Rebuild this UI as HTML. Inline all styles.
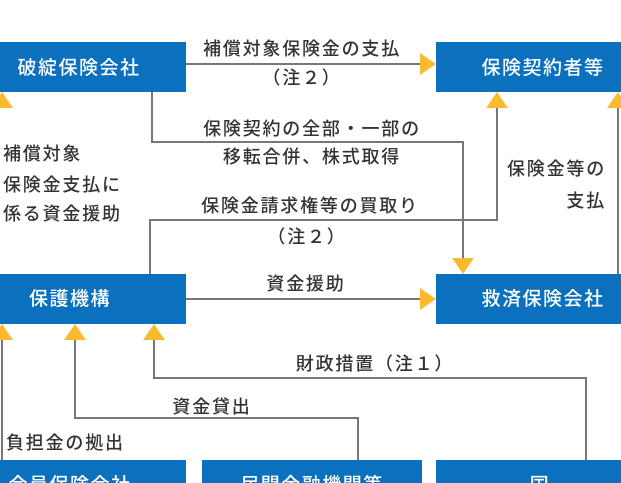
<!DOCTYPE html>
<html><head><meta charset="utf-8"><style>
html,body{margin:0;padding:0;background:#fff;width:621px;height:483px;overflow:hidden}
svg{display:block}
text{font-family:"Liberation Sans","Noto Sans CJK JP",sans-serif;font-size:18px;letter-spacing:1.8px;fill:#333;font-weight:500}
.w{fill:#fff;font-size:19px;letter-spacing:1.5px}
</style></head><body>
<svg width="621" height="483" viewBox="0 0 621 483" xmlns="http://www.w3.org/2000/svg">
<g fill="#0b70bd">
<rect x="0" y="42" width="186" height="50"/>
<rect x="436" y="42" width="185" height="50"/>
<rect x="0" y="274" width="186" height="50"/>
<rect x="436" y="274" width="185" height="50"/>
<rect x="0" y="460" width="186" height="30"/>
<rect x="202" y="460" width="220" height="30"/>
<rect x="436" y="460" width="185" height="30"/>
</g>
<text class="w" x="79" y="74" text-anchor="middle">破綻保険会社</text>
<text class="w" x="543" y="74" text-anchor="middle">保険契約者等</text>
<text class="w" x="70" y="305" text-anchor="middle">保護機構</text>
<text class="w" x="543" y="305" text-anchor="middle">救済保険会社</text>
<text class="w" x="70" y="491" text-anchor="middle">会員保険会社</text>
<text class="w" x="312" y="491" text-anchor="middle">民間金融機関等</text>
<text class="w" x="540" y="491" text-anchor="middle">国</text>
<g fill="none" stroke="#777" stroke-width="2">
<path d="M186 64H422"/>
<path d="M152 92V142H463V260"/>
<path d="M150 274V220H497V106"/>
<path d="M618 274V106"/>
<path d="M186 299H422"/>
<path d="M154 338V378H586V460"/>
<path d="M75 338V418H358V460"/>
<path d="M2 338V460"/>
</g>
<g fill="#fbb92e">
<path d="M420 53L436 64L420 75Z"/>
<path d="M420 288L436 299L420 310Z"/>
<path d="M452 258H474L463 274Z"/>
<path d="M486 108H508L497 92Z"/>
<path d="M607 108H629L618 92Z"/>
<path d="M-9 108H13L2 92Z"/>
<path d="M143 340H165L154 324Z"/>
<path d="M64 340H86L75 324Z"/>
<path d="M-9 340H13L2 324Z"/>
</g>
<text x="302" y="55" text-anchor="middle">補償対象保険金の支払</text>
<text x="302" y="84" text-anchor="middle">（注２）</text>
<text x="312" y="135" text-anchor="middle">保険契約の全部・一部の</text>
<text x="312" y="163" text-anchor="middle">移転合併、株式取得</text>
<text x="310" y="212" text-anchor="middle">保険金請求権等の買取り</text>
<text x="307" y="243" text-anchor="middle">（注２）</text>
<text x="3" y="160">補償対象</text>
<text x="3" y="191">保険金支払に</text>
<text x="3" y="220">係る資金援助</text>
<text x="606" y="175" text-anchor="end">保険金等の</text>
<text x="606" y="207" text-anchor="end">支払</text>
<text x="306" y="290" text-anchor="middle">資金援助</text>
<text x="375" y="370" text-anchor="middle">財政措置（注１）</text>
<text x="212" y="413" text-anchor="middle">資金貸出</text>
<text x="6" y="449">負担金の拠出</text>
</svg>
</body></html>
